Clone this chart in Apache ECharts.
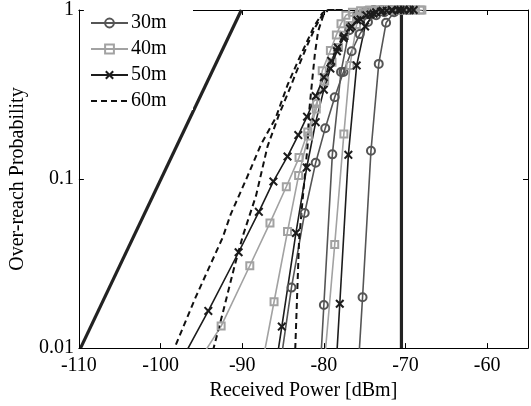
<!DOCTYPE html>
<html>
<head>
<meta charset="utf-8">
<script src="https://cdn.jsdelivr.net/npm/echarts@6/dist/echarts.min.js"></script>
<style>
  html, body { margin: 0; padding: 0; background: #fff; }
  #chart { width: 531px; height: 406px; }
</style>
</head>
<body>
<div id="chart"></div>
<script>
// tick values
const xTicks = [-110, -100, -90, -80, -70, -60];
const legendNames = ['30m', '40m', '50m', '60m'];

// reference lines (thick black)
const refSlope = [[-109.8, 0.01], [-90.1, 1]];
const refVert = [[-70.5, 0.01], [-70.5, 1]];

// 30m curves [received power dBm, over-reach probability]
const d30a = [[-76.3, 0.003], [-75.26, 0.02], [-74.23, 0.147], [-73.28, 0.48], [-72.38, 0.84], [-71.4, 0.97], [-70.4, 1], [-69.4, 1]];
const d30b = [[-81.0, 0.0025], [-80.0, 0.018], [-78.96, 0.14], [-77.9, 0.43], [-76.9, 0.76], [-75.9, 0.93], [-74.9, 0.98], [-73.9, 1], [-72.9, 1], [-71.9, 1], [-70.9, 1]];
const d30c = [[-85.6, 0.0065], [-83.97, 0.0228], [-82.35, 0.063], [-81.0, 0.125], [-79.83, 0.2], [-78.67, 0.305], [-77.6, 0.43], [-76.6, 0.57], [-75.6, 0.72], [-74.6, 0.85], [-73.6, 0.93], [-72.6, 0.97], [-71.6, 0.99], [-70.6, 1], [-69.6, 1]];

// 40m curves
const d40a = [[-80.5, 0.004], [-78.67, 0.041], [-77.55, 0.185], [-76.8, 0.47], [-76.0, 0.82], [-75.2, 0.96], [-74.4, 0.99], [-73.6, 1], [-72.8, 1], [-72.0, 1], [-71.2, 1], [-70.4, 1], [-69.6, 1], [-68.8, 1], [-68.0, 1]];
const d40b = [[-88.0, 0.0062], [-86.1, 0.0188], [-84.45, 0.049], [-83.09, 0.105], [-81.9, 0.18], [-80.93, 0.26], [-80.2, 0.437], [-79.2, 0.576], [-78.47, 0.712], [-77.9, 0.83], [-77.3, 0.93], [-76.5, 0.97], [-75.5, 0.99], [-74.4, 1], [-73.3, 1], [-72.2, 1]];
const d40c = [[-96.5, 0.0068], [-92.58, 0.0135], [-89.07, 0.0307], [-86.6, 0.055], [-84.6, 0.09], [-83.04, 0.134], [-81.97, 0.19], [-80.9, 0.28], [-79.9, 0.38], [-79.0, 0.49], [-78.2, 0.6], [-77.5, 0.71], [-76.8, 0.81], [-76.0, 0.9], [-75.1, 0.96], [-74.0, 0.985], [-72.8, 1], [-71.6, 1], [-70.4, 1], [-69.2, 1], [-68.2, 1]];

// 50m curves
const d50a = [[-98.5, 0.0068], [-94.15, 0.0166], [-90.44, 0.0369], [-87.96, 0.064], [-86.18, 0.0968], [-84.45, 0.136], [-83.13, 0.182], [-82.06, 0.234], [-81.0, 0.31], [-80.0, 0.40], [-79.1, 0.5], [-78.3, 0.6], [-77.5, 0.7], [-76.6, 0.8], [-75.5, 0.88], [-74.3, 0.94], [-73.0, 0.975], [-71.6, 0.99], [-70.2, 1], [-69.0, 1]];
const d50b = [[-86.5, 0.005], [-85.15, 0.0134], [-83.42, 0.048], [-82.1, 0.117], [-81.0, 0.217], [-80.0, 0.338], [-79.2, 0.45], [-78.4, 0.57], [-77.6, 0.68], [-76.8, 0.78], [-75.9, 0.87], [-74.8, 0.93], [-73.6, 0.97], [-72.3, 0.99], [-70.9, 1], [-69.5, 1]];
const d50c = [[-79.1, 0.0025], [-78.05, 0.0183], [-77.0, 0.139], [-75.98, 0.47], [-74.95, 0.8], [-73.9, 0.95], [-72.8, 0.99], [-71.7, 1], [-70.6, 1], [-69.5, 1]];

// 60m curves (dashed, no markers)
const d60a = [[-100.5, 0.0056], [-98.3, 0.01], [-95.7, 0.02], [-92.4, 0.045], [-91.4, 0.062], [-89.5, 0.1], [-87.7, 0.16], [-85.9, 0.23], [-84.45, 0.36], [-83.24, 0.49], [-82.2, 0.63], [-81.2, 0.8], [-80.2, 0.957], [-79.6, 1], [-77.7, 1]];
const d60b = [[-94.5, 0.0065], [-93.5, 0.01], [-92.36, 0.0163], [-90.95, 0.0304], [-89.93, 0.046], [-88.3, 0.08], [-86.9, 0.156], [-85.5, 0.24], [-84.1, 0.35], [-82.9, 0.49], [-81.9, 0.64], [-81.0, 0.8], [-80.1, 0.95], [-79.5, 1]];
const d60c = [[-83.7, 0.005], [-83.5, 0.01], [-83.04, 0.043], [-82.63, 0.073], [-82.0, 0.156], [-81.83, 0.243], [-81.6, 0.316], [-81.4, 0.395], [-81.1, 0.55], [-80.7, 0.75], [-80.1, 0.92], [-79.5, 1], [-77.7, 1]];

const FONT = '"Liberation Serif", "DejaVu Serif", serif';
const xMark = 'path://M1.6,0 L5,3.4 L8.4,0 L10,1.6 L6.6,5 L10,8.4 L8.4,10 L5,6.6 L1.6,10 L0,8.4 L3.4,5 L0,1.6 Z';

const styles = {
  '30m': { color: '#555555', symbol: 'circle', size: 8, hollow: true },
  '40m': { color: '#a2a2a2', symbol: 'rect', size: 7, hollow: true },
  '50m': { color: '#1c1c1c', symbol: xMark, size: 9, hollow: false },
  '60m': { color: '#111111', symbol: 'none', size: 0, dashed: true }
};

function curve(name, data) {
  const s = styles[name];
  let item;
  if (s.dashed) {
    item = { color: 'rgba(0,0,0,0)', borderWidth: 0 };
  } else if (s.hollow) {
    item = { color: 'rgba(255,255,255,0)', borderColor: s.color, borderWidth: 2 };
  } else {
    item = { color: s.color, borderWidth: 0 };
  }
  return {
    name: name,
    type: 'line',
    data: data,
    symbol: s.symbol,
    symbolSize: s.size,
    showSymbol: s.symbol !== 'none',
    clip: true,
    lineStyle: {
      color: s.color,
      width: s.dashed ? 2 : 1.6,
      type: s.dashed ? [6, 4] : 'solid'
    },
    itemStyle: item
  };
}

function thick(data) {
  return {
    name: 'ref',
    type: 'line',
    data: data,
    symbol: 'none',
    lineStyle: { color: '#222', width: 3.2 },
    z: 3
  };
}

const axisCommon = {
  axisLine: { show: true, lineStyle: { color: '#000', width: 1 } },
  axisTick: { show: true, inside: true, length: 5, lineStyle: { color: '#000' } },
  splitLine: { show: false }
};

const chart = echarts.init(document.getElementById('chart'));
chart.setOption({
  animation: false,
  backgroundColor: '#fff',
  grid: { left: 77, right: 3, top: 10, bottom: 49 },
  // white legend box sitting over the top frame, like the original
  graphic: [{
    type: 'rect', left: 80, top: 0, z: 5,
    shape: { width: 113, height: 110 },
    style: { fill: '#fff' }
  }],
  legend: {
    data: legendNames,
    orient: 'vertical',
    left: 90,
    top: 13,
    padding: 0,
    itemGap: 6,
    itemWidth: 37,
    itemHeight: 11,
    textStyle: { fontFamily: FONT, fontSize: 20, color: '#000', padding: [0, 0, 0, -2] },
    z: 10
  },
  xAxis: [
    Object.assign({}, axisCommon, {
      type: 'value', min: -110, max: -55, interval: 10,
      name: 'Received Power [dBm]', nameLocation: 'middle', nameGap: 26,
      nameTextStyle: { fontFamily: FONT, fontSize: 20, color: '#000' },
      axisLabel: {
        fontFamily: FONT, fontSize: 20, color: '#000', margin: 8,
        formatter: function (v) { return xTicks.indexOf(v) >= 0 ? String(v) : ''; }
      }
    }),
    Object.assign({}, axisCommon, {
      type: 'value', min: -110, max: -55, interval: 10, position: 'top',
      axisLabel: { show: false }
    })
  ],
  yAxis: [
    Object.assign({}, axisCommon, {
      type: 'log', logBase: 10, min: 0.01, max: 1, z: 8,
      name: 'Over-reach Probability', nameLocation: 'middle', nameGap: 44,
      nameTextStyle: { fontFamily: FONT, fontSize: 20, color: '#000' },
      axisLabel: { fontFamily: FONT, fontSize: 20, color: '#000', margin: 5 }
    }),
    Object.assign({}, axisCommon, {
      type: 'log', logBase: 10, min: 0.01, max: 1, position: 'right',
      axisLabel: { show: false }
    })
  ],
  series: [
    thick(refSlope),
    thick(refVert),
    curve('30m', d30a), curve('30m', d30b), curve('30m', d30c),
    curve('40m', d40a), curve('40m', d40b), curve('40m', d40c),
    curve('50m', d50a), curve('50m', d50b), curve('50m', d50c),
    curve('60m', d60a), curve('60m', d60b), curve('60m', d60c)
  ]
});
</script>
</body>
</html>
